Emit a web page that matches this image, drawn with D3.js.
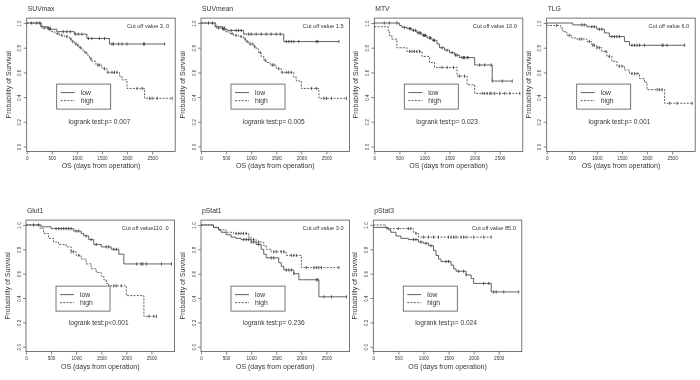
<!DOCTYPE html>
<html>
<head>
<meta charset="utf-8">
<script src="https://cdn.jsdelivr.net/npm/d3@7"></script>
<style>
  body { margin: 0; background: #fff; }
  svg { will-change: transform; }
  text { font-family: "Liberation Sans", Arial, sans-serif; fill: #333; opacity: 0.99; }
</style>
</head>
<body>
<script>
const width = 700;
const height = 380;

// panel texts
const panelTitles = ["SUVmax", "SUVmean", "MTV", "TLG", "Glut1", "pStat1", "pStat3"];
const cutoffLabels = ["Cut off value 3. 0", "Cut off value 1.5", "Cut off value 10.0", "Cut off value 6.0",
    "Cut off value110. 0", "Cut off value 3.0", "Cut off value 85.0"];
const pLabels = ["logrank test:p= 0.007", "logrank test:p= 0.005", "logrank test:p= 0.023", "logrank test:p= 0.001",
    "logrank test:p<0.001", "logrank test:p= 0.236", "logrank test:p= 0.024"];
const xTicks = [0, 500, 1000, 1500, 2000, 2500];
const yTicks = [0, 0.2, 0.4, 0.6, 0.8, 1.0];
const legendLabels = ["low", "high"];

// Kaplan-Meier steps [days, survival] and censor times, per group
const suvmaxLow = [[0, 1.0], [280, 0.97], [420, 0.95], [600, 0.93], [950, 0.91], [1200, 0.875], [1650, 0.83]];
const suvmaxLowCens = [100, 200, 260, 450, 730, 800, 870, 970, 1030, 1100, 1230, 1300, 1450, 1550, 1700, 1730, 1830, 1900, 2000, 2330, 2350, 2750];
const suvmaxHigh = [[0, 1.0], [300, 0.96], [480, 0.93], [560, 0.915], [650, 0.90], [750, 0.89], [850, 0.87], [900, 0.85], [950, 0.83], [1000, 0.82], [1050, 0.80], [1100, 0.78], [1150, 0.76], [1200, 0.74], [1250, 0.71], [1300, 0.69], [1380, 0.66], [1500, 0.63], [1600, 0.60], [1850, 0.57], [1900, 0.54], [2000, 0.47], [2350, 0.39]];
const suvmaxHighCens = [350, 430, 470, 620, 700, 800, 880, 920, 980, 1020, 1070, 1180, 1280, 1420, 1450, 1550, 1620, 1700, 1750, 1800, 2200, 2300, 2450, 2500, 2600, 2900];

const suvmeanLow = [[0, 1.0], [280, 0.97], [420, 0.95], [520, 0.94], [850, 0.91], [1650, 0.85]];
const suvmeanLowCens = [150, 230, 450, 600, 700, 750, 800, 950, 1000, 1100, 1200, 1300, 1400, 1500, 1580, 1700, 1750, 1800, 1850, 1950, 2300, 2330, 2750];
const suvmeanHigh = [[0, 1.0], [300, 0.96], [480, 0.93], [560, 0.915], [650, 0.90], [750, 0.89], [850, 0.87], [900, 0.85], [950, 0.83], [1050, 0.81], [1100, 0.79], [1150, 0.76], [1200, 0.73], [1250, 0.70], [1300, 0.68], [1380, 0.66], [1500, 0.63], [1600, 0.60], [1850, 0.56], [1900, 0.53], [2000, 0.47], [2350, 0.39]];
const suvmeanHighCens = [350, 430, 470, 620, 700, 800, 880, 920, 980, 1020, 1070, 1180, 1280, 1420, 1450, 1550, 1620, 1700, 1750, 1800, 2200, 2300, 2450, 2500, 2600, 2900];

const mtvLow = [[0, 1.0], [500, 0.98], [550, 0.965], [650, 0.955], [750, 0.94], [850, 0.92], [950, 0.90], [1050, 0.88], [1150, 0.86], [1250, 0.83], [1300, 0.80], [1400, 0.78], [1500, 0.76], [1600, 0.74], [1700, 0.72], [2000, 0.66], [2350, 0.53]];
const mtvLowCens = [200, 300, 450, 600, 700, 720, 780, 820, 870, 900, 920, 980, 1000, 1020, 1100, 1120, 1180, 1200, 1350, 1450, 1550, 1620, 1650, 1750, 1780, 1800, 1850, 1870, 2100, 2200, 2330, 2350, 2550, 2750];
const mtvHigh = [[0, 0.97], [280, 0.93], [300, 0.90], [350, 0.87], [450, 0.80], [650, 0.77], [950, 0.73], [1100, 0.68], [1200, 0.64], [1650, 0.57], [1850, 0.50], [2000, 0.43]];
const mtvHighCens = [700, 750, 800, 850, 900, 1350, 1450, 1580, 1700, 1800, 2150, 2200, 2250, 2300, 2330, 2400, 2500, 2600, 2700, 2900];

const tlgLow = [[0, 1.0], [520, 0.985], [800, 0.97], [1000, 0.95], [1150, 0.92], [1250, 0.89], [1550, 0.85], [1650, 0.82]];
const tlgLowCens = [700, 750, 900, 950, 1050, 1100, 1300, 1350, 1400, 1450, 1700, 1750, 1800, 1850, 1950, 2300, 2320, 2400, 2750];
const tlgHigh = [[0, 0.98], [280, 0.96], [320, 0.93], [400, 0.90], [500, 0.88], [600, 0.87], [800, 0.85], [900, 0.82], [1000, 0.80], [1100, 0.77], [1200, 0.73], [1300, 0.69], [1400, 0.65], [1550, 0.62], [1650, 0.59], [1850, 0.55], [1950, 0.52], [2000, 0.46], [2350, 0.35]];
const tlgHighCens = [200, 450, 650, 700, 850, 920, 950, 1000, 1050, 1180, 1250, 1450, 1500, 1700, 1750, 1800, 2200, 2250, 2300, 2450, 2600, 2900];

const glutLow = [[0, 1.0], [300, 0.985], [500, 0.97], [950, 0.95], [1100, 0.93], [1150, 0.91], [1250, 0.88], [1350, 0.84], [1500, 0.82], [1700, 0.80], [1850, 0.76], [1950, 0.68]];
const glutLowCens = [150, 250, 600, 650, 700, 750, 800, 850, 900, 1000, 1050, 1200, 1300, 1400, 1600, 1650, 1750, 1800, 2200, 2300, 2330, 2400, 2700, 2900];
const glutHigh = [[0, 1.0], [280, 0.97], [350, 0.93], [450, 0.89], [550, 0.86], [650, 0.84], [800, 0.82], [900, 0.78], [1000, 0.75], [1100, 0.72], [1200, 0.68], [1300, 0.64], [1400, 0.61], [1500, 0.58], [1550, 0.55], [1600, 0.52], [1650, 0.50], [2000, 0.42], [2350, 0.25]];
const glutHighCens = [900, 950, 1050, 1750, 1800, 1900, 2450, 2550, 2600];

const pstat1Low = [[0, 1.0], [250, 0.98], [350, 0.96], [400, 0.94], [500, 0.92], [600, 0.90], [700, 0.89], [800, 0.88], [1000, 0.86], [1100, 0.84], [1200, 0.80], [1250, 0.76], [1300, 0.73], [1550, 0.69], [1600, 0.66], [1650, 0.63], [1850, 0.60], [1950, 0.55], [2350, 0.41]];
const pstat1LowCens = [850, 900, 950, 1000, 1050, 1150, 1400, 1450, 1700, 1750, 1800, 1850, 2300, 2330, 2450, 2600, 2900];
const pstat1High = [[0, 1.0], [250, 0.98], [350, 0.96], [500, 0.94], [650, 0.93], [950, 0.90], [1000, 0.88], [1100, 0.86], [1250, 0.83], [1300, 0.80], [1400, 0.78], [1700, 0.75], [2000, 0.65]];
const pstat1HighCens = [700, 750, 800, 850, 900, 1050, 1150, 1450, 1500, 1600, 1650, 1800, 1850, 1900, 2100, 2250, 2300, 2350, 2400, 2750];

const pstat3Low = [[0, 0.98], [300, 0.96], [350, 0.94], [450, 0.91], [550, 0.89], [700, 0.88], [900, 0.86], [1000, 0.85], [1100, 0.83], [1200, 0.79], [1250, 0.75], [1300, 0.72], [1350, 0.70], [1550, 0.67], [1600, 0.64], [1650, 0.62], [1850, 0.59], [1950, 0.56], [2000, 0.52], [2350, 0.45]];
const pstat3LowCens = [800, 850, 950, 1050, 1150, 1450, 1500, 1700, 1800, 1850, 2200, 2300, 2400, 2450, 2600, 2900];
const pstat3High = [[0, 1.0], [250, 0.97], [800, 0.94], [850, 0.93], [900, 0.90]];
const pstat3HighCens = [500, 700, 750, 850, 1000, 1100, 1200, 1300, 1500, 1550, 1600, 1650, 1750, 1800, 1850, 2000, 2200, 2350];

const curves = [
    [suvmaxLow, suvmaxLowCens, suvmaxHigh, suvmaxHighCens],
    [suvmeanLow, suvmeanLowCens, suvmeanHigh, suvmeanHighCens],
    [mtvLow, mtvLowCens, mtvHigh, mtvHighCens],
    [tlgLow, tlgLowCens, tlgHigh, tlgHighCens],
    [glutLow, glutLowCens, glutHigh, glutHighCens],
    [pstat1Low, pstat1LowCens, pstat1High, pstat1HighCens],
    [pstat3Low, pstat3LowCens, pstat3High, pstat3HighCens]
];

// plot box placement (left edge, top, bottom)
const boxes = [
    [26.7, 18.1, 151.4], [201, 18.1, 151.4], [374.3, 18.1, 151.4], [546.7, 18.1, 151.4],
    [26, 220.1, 351.6], [201, 220.1, 351.6], [373.3, 220.1, 351.6]
];
const boxWidth = 148.5;

const svg = d3.select("body").append("svg")
    .attr("width", width)
    .attr("height", height);

const lineColor = "#3a3a3a";

function survAt(steps, t) {
    let s = steps[0][1];
    steps.forEach(d => { if (d[0] <= t) s = d[1]; });
    return s;
}

for (let idx = 0; idx < panelTitles.length; idx++) {
    const [left, top, bottom] = boxes[idx];
    const x = d3.scaleLinear().domain([0, 2960]).range([left, left + boxWidth]);
    const y = d3.scaleLinear().domain([-0.04, 1.04]).range([bottom, top]);
    const g = svg.append("g");

    g.append("rect")
        .attr("x", left).attr("y", top)
        .attr("width", boxWidth).attr("height", bottom - top)
        .attr("fill", "none").attr("stroke", "#555").attr("stroke-width", 0.8);

    // axes
    const xAxis = g.append("g")
        .attr("transform", `translate(0,${bottom})`)
        .call(d3.axisBottom(x).tickValues(xTicks).tickSize(3).tickPadding(2).tickFormat(d3.format("d")));
    xAxis.select(".domain").remove();
    xAxis.selectAll("line").attr("stroke", "#555").attr("stroke-width", 0.7);
    xAxis.selectAll("text").attr("font-size", 4.6).attr("fill", "#444").attr("font-family", "Liberation Sans");

    const yAxis = g.append("g")
        .attr("transform", `translate(${left},0)`)
        .call(d3.axisLeft(y).tickValues(yTicks).tickSize(3).tickFormat(d3.format(".1f")));
    yAxis.select(".domain").remove();
    yAxis.selectAll("line").attr("stroke", "#555").attr("stroke-width", 0.7);
    yAxis.selectAll("text")
        .attr("font-size", 4.6).attr("fill", "#444").attr("font-family", "Liberation Sans")
        .attr("text-anchor", "middle")
        .attr("x", 0).attr("y", 0).attr("dy", 0)
        .attr("transform", "translate(-5.5,0) rotate(-90)");

    // titles
    g.append("text").attr("x", left + 1).attr("y", top - 7)
        .attr("font-size", 6.8).text(panelTitles[idx]);
    g.append("text").attr("x", left + boxWidth - 6).attr("y", top + 10)
        .attr("text-anchor", "end").attr("font-size", 5.6).text(cutoffLabels[idx]);
    g.append("text").attr("x", x(1450)).attr("y", y(0.2) + 2.5)
        .attr("text-anchor", "middle").attr("font-size", 6.6).text(pLabels[idx]);
    g.append("text").attr("x", left + boxWidth / 2).attr("y", bottom + 17)
        .attr("text-anchor", "middle").attr("font-size", 7).text("OS (days from operation)");
    g.append("text")
        .attr("transform", `translate(${left - 16},${(top + bottom) / 2}) rotate(-90)`)
        .attr("text-anchor", "middle").attr("font-size", 7).text("Probability of Survival");

    // curves
    const [lowSteps, lowCens, highSteps, highCens] = curves[idx];
    const line = d3.line().x(d => x(d[0])).y(d => y(d[1])).curve(d3.curveStepAfter);
    [[lowSteps, lowCens, null], [highSteps, highCens, "2,1.3"]].forEach(([steps, cens, dash]) => {
        const end = d3.max(cens.concat(steps.map(d => d[0])));
        const pts = steps.concat([[end, steps[steps.length - 1][1]]]);
        g.append("path")
            .attr("d", line(pts))
            .attr("fill", "none")
            .attr("stroke", lineColor)
            .attr("stroke-width", 0.8)
            .attr("stroke-dasharray", dash);
        g.selectAll(null)
            .data(cens)
            .enter()
            .append("line")
            .attr("x1", d => x(d)).attr("x2", d => x(d))
            .attr("y1", d => y(survAt(steps, d)) - 1.6)
            .attr("y2", d => y(survAt(steps, d)) + 1.6)
            .attr("stroke", lineColor)
            .attr("stroke-width", 0.8);
    });

    // legend
    const lx = left + 30, ly = top + 66;
    g.append("rect").attr("x", lx).attr("y", ly).attr("width", 54).attr("height", 25)
        .attr("fill", "#fff").attr("stroke", "#555").attr("stroke-width", 0.8);
    legendLabels.forEach((lab, k) => {
        const yy = ly + 8.5 + k * 8;
        g.append("line").attr("x1", lx + 4).attr("x2", lx + 18).attr("y1", yy).attr("y2", yy)
            .attr("stroke", lineColor).attr("stroke-width", 0.8)
            .attr("stroke-dasharray", k === 1 ? "2,1.3" : null);
        g.append("text").attr("x", lx + 24).attr("y", yy + 2.3)
            .attr("font-size", 6.8).text(lab);
    });
}
</script>
</body>
</html>
